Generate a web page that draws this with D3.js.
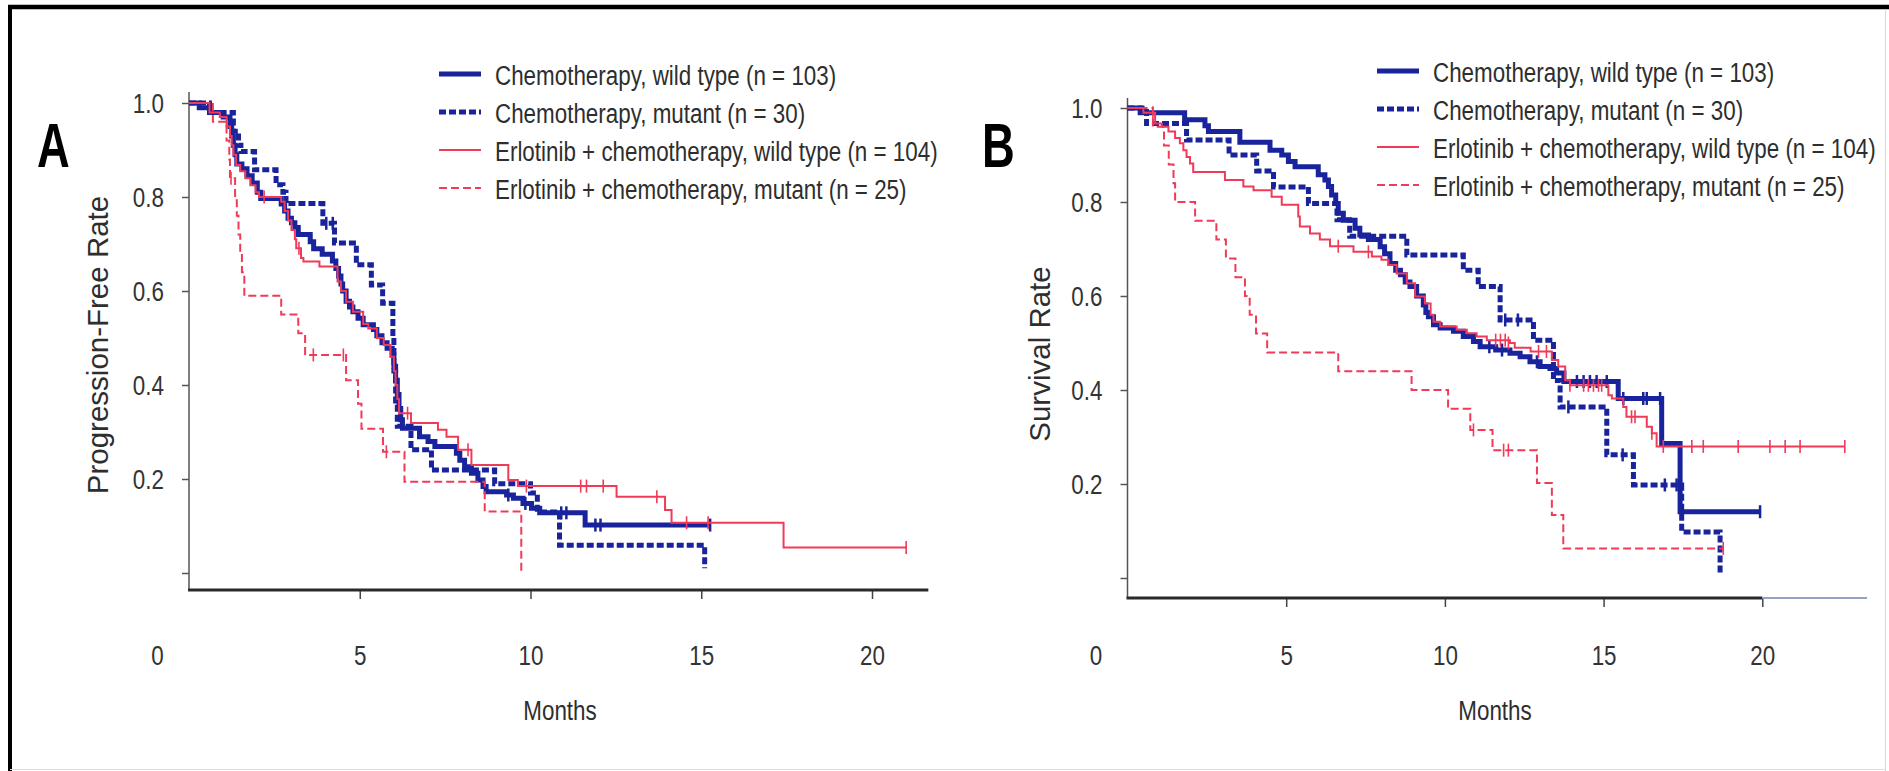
<!DOCTYPE html>
<html>
<head>
<meta charset="utf-8">
<script src="https://cdn.jsdelivr.net/npm/d3@7"></script>
<style>
  body { margin: 0; background: #fff; }
  svg { display: block; }
  text { font-family: "Liberation Sans", Arial, Helvetica, sans-serif; fill: #2e2e2e; }
</style>
</head>
<body>
<svg id="chart" width="1889" height="771"></svg>
<script>
// ---- data -------------------------------------------------------------
const legendLabels = [
  "Chemotherapy, wild type (n = 103)",
  "Chemotherapy, mutant (n = 30)",
  "Erlotinib + chemotherapy, wild type (n = 104)",
  "Erlotinib + chemotherapy, mutant (n = 25)"
];
const xTicks = [0, 5, 10, 15, 20];
const yTicks = [0, 0.2, 0.4, 0.6, 0.8, 1.0];

// Panel A: progression-free rate, [month, rate] steps
const pfsChemoWild = [[0,1],[0.3,0.99],[0.6,0.98],[1.0,0.97],[1.2,0.95],[1.25,0.93],[1.3,0.91],[1.35,0.89],[1.4,0.87],[1.55,0.86],[1.7,0.845],[1.85,0.83],[2.0,0.81],[2.1,0.797],[2.7,0.785],[2.8,0.77],[2.9,0.755],[3.0,0.745],[3.1,0.735],[3.2,0.72],[3.55,0.705],[3.65,0.69],[3.9,0.678],[4.2,0.664],[4.3,0.648],[4.38,0.632],[4.45,0.615],[4.5,0.6],[4.6,0.578],[4.7,0.566],[4.8,0.556],[4.95,0.542],[5.1,0.528],[5.4,0.518],[5.5,0.505],[5.65,0.49],[5.8,0.478],[5.95,0.464],[6.0,0.44],[6.05,0.41],[6.1,0.38],[6.15,0.35],[6.2,0.326],[6.25,0.308],[6.75,0.29],[7.0,0.28],[7.2,0.269],[7.83,0.255],[7.93,0.24],[8.07,0.226],[8.27,0.212],[8.46,0.198],[8.61,0.184],[8.7,0.173],[9.3,0.166],[9.5,0.159],[9.78,0.148],[10.03,0.138],[10.27,0.128],[11.6,0.102],[15.26,0.102]];
const pfsChemoMut = [[0,1],[0.6,0.98],[1.3,0.94],[1.45,0.91],[1.52,0.897],[1.92,0.858],[2.55,0.826],[2.75,0.81],[2.84,0.786],[3.92,0.744],[4.26,0.702],[4.9,0.656],[5.34,0.613],[5.67,0.574],[5.97,0.5],[6.0,0.43],[6.05,0.36],[6.1,0.312],[6.5,0.262],[7.1,0.219],[8.95,0.19],[10.0,0.17],[10.2,0.13],[10.85,0.059],[15.1,0.059],[15.1,0.01]];
const pfsErloWild = [[0,1],[0.6,0.98],[0.9,0.97],[1.1,0.95],[1.2,0.93],[1.25,0.91],[1.3,0.89],[1.38,0.868],[1.5,0.855],[1.65,0.84],[1.8,0.825],[1.95,0.81],[2.05,0.8],[2.7,0.79],[2.8,0.77],[2.9,0.75],[3.0,0.73],[3.1,0.71],[3.14,0.691],[3.28,0.67],[3.35,0.663],[3.82,0.652],[4.35,0.62],[4.45,0.6],[4.6,0.577],[4.8,0.556],[5.1,0.53],[5.25,0.52],[5.5,0.5],[5.7,0.485],[5.9,0.46],[6.0,0.43],[6.05,0.4],[6.1,0.37],[6.15,0.34],[6.5,0.319],[7.29,0.305],[7.54,0.29],[7.88,0.262],[8.27,0.23],[9.35,0.198],[9.63,0.185],[12.52,0.162],[13.94,0.134],[14.13,0.107],[17.41,0.054],[21.0,0.054]];
const pfsErloMut = [[0,1],[0.7,0.96],[1.1,0.92],[1.18,0.88],[1.2,0.84],[1.35,0.8],[1.4,0.76],[1.45,0.72],[1.5,0.68],[1.55,0.64],[1.62,0.59],[2.7,0.55],[3.2,0.51],[3.4,0.464],[4.6,0.41],[4.95,0.36],[5.05,0.307],[5.68,0.258],[6.31,0.194],[8.66,0.131],[9.73,0.131],[9.73,0.005]];

// Panel A censoring marks
const pfsChemoWildCens = [[9.35,0.166],[9.85,0.148],[10.9,0.128],[11.05,0.128],[11.9,0.102],[12.05,0.102],[15.26,0.102]];
const pfsChemoMutCens = [[4.02,0.744],[4.21,0.744]];
const pfsErloWildCens = [[2.2,0.8],[3.22,0.691],[6.4,0.34],[8.17,0.262],[9.88,0.185],[11.47,0.185],[11.64,0.185],[12.13,0.185],[13.7,0.162],[14.57,0.107],[15.2,0.107],[21.0,0.054]];
const pfsErloMutCens = [[1.23,0.84],[3.64,0.464],[4.52,0.464],[5.78,0.258]];

// Panel B: survival rate, [month, rate] steps
const osChemoWild = [[0,1],[0.4,0.99],[1.8,0.975],[2.44,0.962],[2.55,0.95],[3.54,0.927],[4.49,0.91],[4.86,0.9],[5.07,0.886],[5.28,0.875],[6.01,0.858],[6.22,0.847],[6.33,0.833],[6.43,0.815],[6.56,0.797],[6.64,0.776],[6.8,0.761],[7.17,0.744],[7.32,0.73],[7.59,0.72],[7.96,0.705],[8.1,0.69],[8.27,0.669],[8.45,0.655],[8.6,0.645],[8.75,0.63],[8.9,0.62],[9.11,0.6],[9.32,0.581],[9.4,0.565],[9.48,0.556],[9.64,0.539],[9.85,0.532],[10.27,0.525],[10.58,0.514],[10.9,0.503],[11.11,0.492],[11.6,0.485],[12.05,0.478],[12.37,0.471],[12.68,0.46],[13.0,0.45],[13.31,0.446],[13.52,0.436],[13.75,0.418],[15.46,0.382],[16.83,0.286],[17.41,0.141],[19.93,0.141]];
const osChemoMut = [[0,1],[0.6,0.967],[1.86,0.932],[3.2,0.9],[4.07,0.866],[4.6,0.832],[5.7,0.797],[6.6,0.762],[7.0,0.727],[8.8,0.687],[10.58,0.655],[11.05,0.62],[11.74,0.549],[12.79,0.506],[13.42,0.42],[13.63,0.364],[15.1,0.262],[15.94,0.198],[17.46,0.098],[18.67,0.098],[18.67,0.01]];
const osErloWild = [[0,1],[0.5,0.99],[0.87,0.967],[1.08,0.96],[1.29,0.95],[1.5,0.936],[1.65,0.925],[1.76,0.91],[1.86,0.896],[1.97,0.882],[2.07,0.864],[3.07,0.847],[3.65,0.833],[3.97,0.825],[4.54,0.811],[4.86,0.794],[5.38,0.769],[5.43,0.748],[5.75,0.733],[6.06,0.72],[6.38,0.706],[7.12,0.694],[7.7,0.684],[8.0,0.677],[8.22,0.666],[8.48,0.648],[8.8,0.627],[9.06,0.599],[9.37,0.584],[9.55,0.56],[9.64,0.545],[9.85,0.535],[10.37,0.528],[10.69,0.521],[11.0,0.514],[11.32,0.506],[12.05,0.5],[12.2,0.49],[12.7,0.482],[13.37,0.464],[13.57,0.45],[13.79,0.421],[13.94,0.41],[15.15,0.389],[15.26,0.382],[15.62,0.364],[15.72,0.343],[16.36,0.322],[16.52,0.308],[16.67,0.28],[22.6,0.28]];
const osErloMut = [[0,1],[0.8,0.96],[1.15,0.92],[1.3,0.88],[1.45,0.84],[1.5,0.8],[2.13,0.76],[2.8,0.72],[3.1,0.68],[3.4,0.64],[3.7,0.6],[3.85,0.56],[4.05,0.52],[4.4,0.48],[6.64,0.44],[8.95,0.4],[10.1,0.36],[10.8,0.315],[11.5,0.272],[12.9,0.202],[13.37,0.134],[13.73,0.063],[18.77,0.063]];

// Panel B censoring marks
const osChemoWildCens = [[11.4,0.492],[11.8,0.485],[12.9,0.46],[14.16,0.418],[14.37,0.418],[14.57,0.418],[14.78,0.418],[15.1,0.418],[15.62,0.382],[16.25,0.382],[16.36,0.382],[16.78,0.382],[19.93,0.141]];
const osChemoMutCens = [[11.9,0.549],[12.3,0.549],[13.89,0.364],[15.6,0.262],[16.93,0.198],[17.3,0.198]];
const osErloWildCens = [[0.8,0.99],[6.64,0.706],[7.59,0.694],[11.6,0.506],[11.75,0.506],[11.9,0.506],[12.0,0.5],[12.95,0.482],[13.2,0.482],[13.94,0.41],[14.37,0.41],[14.52,0.41],[14.68,0.41],[14.84,0.41],[14.94,0.41],[15.88,0.343],[15.99,0.343],[16.52,0.308],[16.88,0.28],[17.78,0.28],[18.14,0.28],[19.24,0.28],[20.24,0.28],[20.72,0.28],[21.19,0.28],[22.6,0.28]];
const osErloMutCens = [[10.9,0.315],[11.85,0.272],[12.0,0.272],[18.77,0.063]];

// ---- styles -----------------------------------------------------------
const BLUE = "#18239c", RED = "#f03a58";
const seriesStyle = [
  { color: BLUE, width: 5, dash: null, tick: 2.5 },
  { color: BLUE, width: 5, dash: "7,3", tick: 2.5 },
  { color: RED, width: 2, dash: null, tick: 1.6 },
  { color: RED, width: 2, dash: "8,4", tick: 1.6 }
];
const drawOrder = [1, 0, 2, 3];
const NARROW = 0.8;   // condensed look of the original type

const svg = d3.select("#chart");

// frame round the figure
svg.append("line").attr("x1", 8).attr("x2", 1889).attr("y1", 7).attr("y2", 7)
   .attr("stroke", "#000").attr("stroke-width", 4.5);
svg.append("line").attr("x1", 10).attr("x2", 10).attr("y1", 5).attr("y2", 771)
   .attr("stroke", "#000").attr("stroke-width", 4);
svg.append("line").attr("x1", 1885.5).attr("x2", 1885.5).attr("y1", 9).attr("y2", 771)
   .attr("stroke", "#d8d8d8").attr("stroke-width", 1);
svg.append("line").attr("x1", 10).attr("x2", 1886).attr("y1", 769.5).attr("y2", 769.5)
   .attr("stroke", "#dcdcdc").attr("stroke-width", 1);

function drawPanel(p, series, censors) {
  const x = d3.scaleLinear().domain([0, 20]).range([p.x0, p.x0 + 20 * p.perMonth]);
  const y = d3.scaleLinear().domain([0, 1]).range([p.y0, p.y0 - 470]);
  const g = svg.append("g");

  // y axis
  const yAxis = g.append("g")
      .attr("transform", `translate(${x(0)},0)`)
      .call(d3.axisLeft(y).tickValues(yTicks).tickSize(7)
            .tickFormat(d => d === 0 ? "" : d3.format(".1f")(d)));
  yAxis.attr("font-family", null).attr("font-size", null).attr("color", "#555");
  yAxis.select(".domain").remove();
  yAxis.selectAll(".tick line").attr("stroke-width", 1.5);
  yAxis.selectAll(".tick text")
      .attr("x", 0).attr("dy", "0.35em")
      .attr("transform", `translate(-25,0) scale(${NARROW},1)`)
      .style("font-size", "28px").style("fill", "#333");
  g.append("line")
      .attr("x1", x(0)).attr("x2", x(0))
      .attr("y1", p.yTop).attr("y2", p.axisY)
      .attr("stroke", "#555").attr("stroke-width", 1.5);

  // x axis
  const xAxis = g.append("g")
      .attr("transform", `translate(0,${p.axisY})`)
      .call(d3.axisBottom(x).tickValues(xTicks).tickSize(9));
  xAxis.attr("font-family", null).attr("font-size", null).attr("color", "#444");
  xAxis.select(".domain").remove();
  xAxis.selectAll(".tick line").attr("stroke-width", 1.5).filter(d => d === 0).remove();
  xAxis.selectAll(".tick text")
      .attr("y", 0).attr("dy", "0.35em")
      .attr("transform", d => `translate(${d === 0 ? -32 : 0},${p.tickLabelY - p.axisY}) scale(${NARROW},1)`)
      .style("font-size", "28px").style("fill", "#333");
  g.append("line")
      .attr("x1", x(0) - 1).attr("x2", x(p.darkEnd))
      .attr("y1", p.axisY).attr("y2", p.axisY)
      .attr("stroke", "#2a2a2a").attr("stroke-width", 3);
  if (p.axisEnd > p.darkEnd) {
    g.append("line")
        .attr("x1", x(p.darkEnd)).attr("x2", x(p.axisEnd))
        .attr("y1", p.axisY).attr("y2", p.axisY)
        .attr("stroke", "#98a0c4").attr("stroke-width", 2);
  }

  // curves and censor ticks
  const line = d3.line().x(d => x(d[0])).y(d => y(d[1])).curve(d3.curveStepAfter);
  drawOrder.forEach(i => {
    const st = seriesStyle[i];
    g.append("path")
        .datum(series[i])
        .attr("d", line)
        .attr("fill", "none")
        .attr("stroke", st.color)
        .attr("stroke-width", st.width)
        .attr("stroke-dasharray", st.dash);
    g.selectAll(null)
        .data(censors[i])
        .enter().append("line")
        .attr("x1", d => x(d[0])).attr("x2", d => x(d[0]))
        .attr("y1", d => y(d[1]) - 6.5).attr("y2", d => y(d[1]) + 6.5)
        .attr("stroke", st.color)
        .attr("stroke-width", st.tick);
  });

  // legend
  const leg = g.append("g").selectAll("g")
      .data(legendLabels)
      .enter().append("g")
      .attr("transform", (d, i) => `translate(${p.legendX},${p.legendY + i * 38})`);
  leg.append("line")
      .attr("x1", 0).attr("x2", 42).attr("y1", -1).attr("y2", -1)
      .attr("stroke", (d, i) => seriesStyle[i].color)
      .attr("stroke-width", (d, i) => seriesStyle[i].width)
      .attr("stroke-dasharray", (d, i) => seriesStyle[i].dash);
  leg.append("text")
      .attr("transform", `translate(56,0) scale(${NARROW},1)`)
      .attr("dy", "0.35em")
      .style("font-size", "28px")
      .text(d => d);

  // panel letter
  g.append("text")
      .attr("transform", `translate(${p.letterX},167) scale(0.72,1)`)
      .style("font-size", "63px").style("font-weight", "bold").style("fill", "#000")
      .text(p.letter);

  // axis titles
  g.append("text")
      .attr("transform", `translate(${p.yLabelX},${p.yLabelY}) rotate(-90)`)
      .attr("text-anchor", "middle")
      .style("font-size", "29.5px")
      .text(p.yLabel);
  g.append("text")
      .attr("transform", `translate(${p.monthsX},710) scale(${NARROW},1)`)
      .attr("text-anchor", "middle").attr("dy", "0.35em")
      .style("font-size", "28px")
      .text("Months");
}

drawPanel({
  x0: 189, perMonth: 34.15, y0: 573, axisY: 590, yTop: 92,
  darkEnd: 21.65, axisEnd: 21.65, tickLabelY: 655,
  legendX: 439, legendY: 75, letter: "A", letterX: 37,
  yLabel: "Progression-Free Rate", yLabelX: 108, yLabelY: 345, monthsX: 560
}, [pfsChemoWild, pfsChemoMut, pfsErloWild, pfsErloMut],
   [pfsChemoWildCens, pfsChemoMutCens, pfsErloWildCens, pfsErloMutCens]);

drawPanel({
  x0: 1127.5, perMonth: 31.74, y0: 578, axisY: 598, yTop: 98,
  darkEnd: 20, axisEnd: 23.3, tickLabelY: 655,
  legendX: 1377, legendY: 72, letter: "B", letterX: 982,
  yLabel: "Survival Rate", yLabelX: 1050, yLabelY: 354, monthsX: 1495
}, [osChemoWild, osChemoMut, osErloWild, osErloMut],
   [osChemoWildCens, osChemoMutCens, osErloWildCens, osErloMutCens]);
</script>
</body>
</html>
